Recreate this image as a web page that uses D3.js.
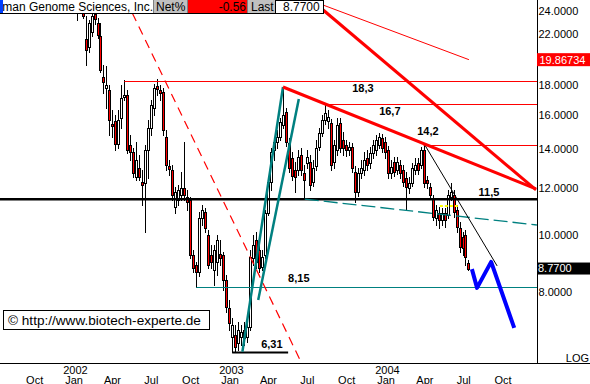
<!DOCTYPE html>
<html><head><meta charset="utf-8">
<script src="https://cdn.jsdelivr.net/npm/d3@7"></script>
<style>
body{margin:0;background:#fff}
svg{display:block}
text{font-family:"Liberation Sans",Arial,sans-serif}
</style>
</head><body>
<svg id="c" width="590" height="384"></svg>
<script>
// ---------------- DATA ----------------
const firstWeek = "2002-01-07";   // weekly candles, one per week from here
const opens = [24.70,24.32,25.09,21.54,20.88,22.14,23.75,22.93,21.79,18.56,
17.78,17.64,15.44,15.62,14.28,15.81,17.16,17.30,14.22,13.84,
12.55,13.00,12.31,12.26,13.95,15.20,16.44,17.92,17.64,17.50,
14.68,13.10,12.90,11.16,11.47,11.69,12.02,11.60,11.47,9.25,
8.89,8.65,10.69,10.94,10.00,9.25,8.72,9.00,9.28,9.25,
8.38,7.51,6.71,6.76,6.55,6.71,6.89,6.71,6.98,9.14,
9.81,9.43,8.82,9.25,10.90,12.31,13.95,14.39,14.68,15.38,
16.19,14.34,13.52,12.90,12.90,13.68,12.75,13.26,13.31,12.31,
13.10,14.11,14.91,15.69,15.62,15.50,13.31,13.95,15.50,14.50,
14.22,13.95,14.11,12.80,11.83,12.75,12.90,13.52,13.26,13.79,
13.95,14.22,14.62,14.39,13.95,12.75,13.31,12.90,13.15,12.90,
12.50,12.02,12.26,12.90,13.26,13.15,13.95,12.40,12.07,11.56,
10.69,10.90,10.61,10.90,10.81,11.60,11.69,11.03,10.28,9.92,
10.00,8.96];
const highs = [25.59,25.89,25.69,23.57,23.20,24.13,24.60,23.38,22.93,19.45,
19.38,17.99,16.31,15.99,16.31,17.99,18.34,17.64,14.79,14.06,
14.39,13.68,12.90,14.22,15.69,16.96,18.06,18.42,17.99,17.78,
15.08,13.41,13.15,12.07,12.16,12.80,14.39,11.93,11.60,9.43,
9.00,10.94,11.24,11.11,10.20,9.62,9.62,10.00,9.81,9.36,
8.55,7.75,7.23,7.03,7.11,7.03,7.11,7.23,9.43,10.00,
10.12,9.62,9.43,11.03,12.50,14.06,14.62,15.08,15.81,17.85,
16.44,14.62,13.84,13.31,13.95,14.06,13.15,13.95,13.68,13.41,
14.50,15.20,15.99,16.77,16.31,15.75,14.50,15.81,15.81,14.97,
14.50,14.39,14.34,13.10,13.00,13.41,13.84,13.95,14.11,14.50,
14.79,14.91,14.85,14.68,14.17,13.41,13.57,13.57,13.41,13.15,
12.80,12.55,13.26,13.52,13.52,14.11,14.25,12.60,12.26,11.69,
11.24,11.16,11.11,11.11,11.93,12.26,11.93,11.24,10.52,10.12,
10.20,9.07];
const lows = [23.20,23.94,23.38,19.45,20.47,21.79,22.84,21.62,18.93,17.44,
16.44,14.79,14.68,13.95,14.06,15.20,16.96,13.79,13.41,12.55,
12.40,12.40,11.24,10.12,12.50,14.79,15.99,17.30,16.96,14.79,
12.90,12.65,11.47,10.90,11.24,11.47,11.47,11.03,9.14,8.65,
8.16,8.52,10.40,10.12,8.79,8.79,8.22,8.55,8.89,8.06,
7.40,6.89,6.33,6.33,6.38,6.50,6.50,6.58,6.89,8.89,
8.79,8.65,8.72,9.14,10.81,11.93,13.41,14.06,14.50,15.20,
14.17,12.80,12.40,11.83,12.65,12.65,11.51,13.00,11.93,12.11,
12.90,13.95,14.73,15.44,15.20,12.90,13.00,13.68,13.84,13.68,
13.62,13.68,12.80,11.38,11.65,12.50,12.65,12.90,13.00,13.52,
13.68,14.06,13.84,13.52,12.50,12.50,12.60,12.70,12.50,12.11,
11.03,11.79,12.11,12.70,12.70,13.00,12.07,12.02,11.56,10.61,
10.40,10.28,10.40,10.32,10.69,11.47,10.73,10.12,9.36,9.25,
8.89,8.72];
const closes = [24.13,25.29,23.57,20.63,22.93,23.57,23.29,21.88,19.08,18.20,
17.99,15.69,15.32,14.28,15.69,17.10,17.30,13.95,13.84,12.75,
13.41,12.55,12.16,13.95,15.20,16.63,17.78,17.71,17.44,15.08,
13.15,12.95,11.69,11.83,11.93,12.02,11.69,11.38,9.25,8.79,
8.65,10.69,11.03,10.28,8.89,9.00,9.43,9.81,9.14,8.38,
7.54,7.09,7.03,6.45,6.89,6.84,6.68,6.98,9.18,9.62,
9.00,8.79,9.18,10.90,12.31,13.84,14.39,14.68,15.56,15.99,
14.39,13.00,12.60,12.55,13.57,12.90,12.40,13.57,12.16,13.00,
14.06,14.91,15.69,16.12,15.87,13.15,14.22,15.38,14.06,14.06,
13.95,14.11,13.00,11.83,12.75,13.00,13.41,13.15,13.79,14.22,
14.50,14.68,14.06,13.84,12.75,13.05,12.80,13.31,12.75,12.31,
12.07,12.26,13.00,13.15,12.90,13.95,12.26,12.26,11.69,10.73,
11.03,10.61,10.90,10.61,11.69,11.83,10.94,10.32,9.54,9.50,
9.18,8.77];

// horizontal support / resistance levels
const levelValues = [18.3, 16.7, 14.2, 11.5, 8.15, 6.31];
const levelLabels = ["18,3", "16,7", "14,2", "11,5", "8,15", "6,31"];
const levelFrom   = ["2002-04-29", "2003-08-11", "2004-03-29", "2001-07-01", "2002-10-14", "2003-01-06"];
const levelTo     = [null, null, null, null, null, "2003-05-17"];
const levelLabelAt = ["2003-11-08", "2004-01-10", "2004-04-08", "2004-08-29", "2003-06-11", "2003-04-09"];

// trend lines  [date, price]
const trendRedA   = [["2003-08-07", 24.13], ["2004-12-17", 11.93]];
const trendRedB   = [["2003-05-05", 17.85], ["2004-12-17", 11.98]];
const trendRedThin = [["2003-08-07", 24.60], ["2004-07-13", 19.86734]];
const trendRedDash = [["2002-05-02", 25.15], ["2003-06-14", 6.13]];
const trendTealA  = [["2003-01-30", 6.33], ["2003-05-05", 17.85]];
const trendTealB  = [["2003-03-08", 7.75], ["2003-06-11", 17.03]];
const trendTealDash = [["2003-06-25", 11.51], ["2004-12-19", 10.40]];
const trendBlack  = [["2004-04-01", 14.22], ["2004-09-17", 8.86]];
const forecast    = [["2004-07-20", 8.75], ["2004-08-01", 8.13], ["2004-09-03", 9.00], ["2004-10-27", 6.95]];
const yellowMark  = [["2004-05-06", 11.20], ["2004-06-20", 11.20]];

const yTicks = [24, 22, 18, 16, 14, 12, 10, 8];
const monthTicks = ["2001-10-01","2002-01-01","2002-04-01","2002-07-01","2002-10-01","2003-01-01",
  "2003-04-01","2003-07-01","2003-10-01","2004-01-01","2004-04-01","2004-07-01","2004-10-01"];
const refValue = 19.86734;
const lastValue = 8.77;
const title = "Human Genome Sciences, Inc.";
const netPct = "-0.56";
const copyright = "\u00A9 http://www.biotech-experte.de";

// ---------------- DRAW ----------------
const parse = d3.utcParse("%Y-%m-%d");
const W = 590, H = 384, plotR = 537, plotB = 363;
const x = d3.scaleUtc().domain([parse("2002-01-01"), parse("2004-01-01")]).range([74, 386]);
const y = d3.scaleLog().domain([8, 24]).range([292, 11.4]);

const svg = d3.select("#c");
svg.append("rect").attr("width", W).attr("height", H).attr("fill", "#fff");
const defs = svg.append("defs");
defs.append("clipPath").attr("id", "plot").append("rect")
  .attr("x", 0).attr("y", 0).attr("width", plotR).attr("height", plotB);
defs.append("clipPath").attr("id", "ttl").append("rect")
  .attr("x", 3).attr("y", 0).attr("width", 151).attr("height", 14);

const g = svg.append("g").attr("clip-path", "url(#plot)");
const line = d3.line().x(d => x(parse(d[0]))).y(d => y(d[1]));

// candles
const start = parse(firstWeek);
const candles = closes.map((c, i) => ({
  d: d3.utcDay.offset(start, 7 * i), o: opens[i], h: highs[i], l: lows[i], c: c
}));
const cg = g.append("g").attr("shape-rendering", "crispEdges");
candles.forEach(k => {
  const cx = Math.round(x(k.d));
  cg.append("line").attr("x1", cx + 0.5).attr("x2", cx + 0.5)
    .attr("y1", Math.round(y(k.h))).attr("y2", Math.round(y(k.l)) + 1)
    .attr("stroke", "#000").attr("stroke-width", 1);
  const top = Math.round(y(Math.max(k.o, k.c)));
  const bot = Math.round(y(Math.min(k.o, k.c)));
  cg.append("rect").attr("x", cx - 0.5).attr("y", top + 0.5)
    .attr("width", 2).attr("height", Math.max(1, bot - top))
    .attr("fill", k.c >= k.o ? "#fff" : "#ff0000")
    .attr("stroke", "#000").attr("stroke-width", 1);
});

// horizontal levels
const levelColors = ["#ff0000", "#ff0000", "#ff0000", "#000", "#008080", "#000"];
const levelWidths = [1, 1, 1, 2.5, 1, 2];
const labelDy = [7, 7, -14, -7, -9, -9];
levelValues.forEach((v, i) => {
  const yy = y(v);
  const yc = levelWidths[i] === 1 ? Math.round(yy) + 0.5 : yy;
  g.append("line")
    .attr("x1", x(parse(levelFrom[i])))
    .attr("x2", levelTo[i] ? x(parse(levelTo[i])) : plotR)
    .attr("y1", yc).attr("y2", yc)
    .attr("stroke", levelColors[i]).attr("stroke-width", levelWidths[i]);
});

// trend lines
function path(data, color, width, dash) {
  const p = g.append("path").attr("d", line(data)).attr("fill", "none")
    .attr("stroke", color).attr("stroke-width", width).attr("stroke-linejoin", "round");
  if (dash) p.attr("stroke-dasharray", dash);
  return p;
}
path(trendRedDash, "#ff0000", 1.2, "9,6");
path(trendTealDash, "#008080", 1.3, "14,5");
path(trendRedThin, "#ff0000", 1);
path(trendBlack, "#000", 1);
path(trendTealA, "#008080", 2.5);
path(trendTealB, "#008080", 2.5);
path(trendRedB, "#ff0000", 3);
path(trendRedA, "#ff0000", 3);
path(yellowMark, "#ffff00", 2, "3,2");
path(forecast, "#0000ff", 4);

// level labels
levelValues.forEach((v, i) => {
  svg.append("text").attr("x", x(parse(levelLabelAt[i]))).attr("y", y(v) + labelDy[i])
    .attr("text-anchor", "middle").attr("dy", "0.36em")
    .attr("font-size", 11).attr("font-weight", "bold").attr("fill", "#000")
    .text(levelLabels[i]);
});

// axes lines
svg.append("line").attr("x1", 0).attr("x2", W).attr("y1", plotB + 0.5).attr("y2", plotB + 0.5)
  .attr("stroke", "#000").attr("shape-rendering", "crispEdges");
svg.append("line").attr("x1", plotR + 0.5).attr("x2", plotR + 0.5).attr("y1", 0).attr("y2", plotB)
  .attr("stroke", "#000").attr("shape-rendering", "crispEdges");

// y labels
const fmt = d3.format(".4f");
yTicks.forEach(v => {
  svg.append("text").attr("x", 538.5).attr("y", y(v)).attr("dy", "0.36em")
    .attr("font-size", 11).attr("fill", "#000").text(fmt(v));
});
// reference value box
svg.append("rect").attr("x", plotR).attr("y", y(refValue) - 6.5).attr("width", W - plotR).attr("height", 13)
  .attr("fill", "#ff0000");
svg.append("text").attr("x", 539.5).attr("y", y(refValue)).attr("dy", "0.36em")
  .attr("font-size", 11).attr("fill", "#fff").text(refValue.toFixed(5));
// last value box
svg.append("rect").attr("x", plotR).attr("y", y(lastValue) - 6).attr("width", W - plotR).attr("height", 12)
  .attr("fill", "#000");
svg.append("text").attr("x", 538).attr("y", y(lastValue)).attr("dy", "0.36em")
  .attr("font-size", 11).attr("fill", "#fff").text(lastValue.toFixed(4));
svg.append("text").attr("x", 589).attr("y", 361.5).attr("text-anchor", "end")
  .attr("font-size", 11).attr("fill", "#000").text("LOG");

// x labels
const fMon = d3.utcFormat("%b"), fYear = d3.utcFormat("%Y");
monthTicks.forEach(s => {
  const d = parse(s), xx = x(d);
  svg.append("text").attr("x", xx).attr("y", 383.5).attr("text-anchor", "middle")
    .attr("font-size", 11).attr("fill", "#000").text(fMon(d));
  if (d.getUTCMonth() === 0)
    svg.append("text").attr("x", xx + 1.5).attr("y", 373.5).attr("text-anchor", "middle")
      .attr("font-size", 11).attr("fill", "#000").text(fYear(d));
});

// header bar
const hd = svg.append("g").attr("shape-rendering", "crispEdges");
hd.append("rect").attr("x", 0).attr("y", 0).attr("width", 324).attr("height", 13).attr("fill", "#fff");
hd.append("rect").attr("x", 154).attr("y", 0).attr("width", 34).attr("height", 13).attr("fill", "#c0c0c0");
hd.append("rect").attr("x", 188).attr("y", 0).attr("width", 60).attr("height", 13).attr("fill", "#ff0000");
hd.append("rect").attr("x", 248).attr("y", 0).attr("width", 27).attr("height", 13).attr("fill", "#c0c0c0");
hd.append("rect").attr("x", 275.5).attr("y", 0.5).attr("width", 48).attr("height", 13).attr("fill", "#fff")
  .attr("stroke", "#000");
hd.append("line").attr("x1", 0).attr("x2", 324).attr("y1", 13.5).attr("y2", 13.5).attr("stroke", "#000");
[153.5, 187.5, 247.5].forEach(v => hd.append("line").attr("x1", v).attr("x2", v).attr("y1", 0).attr("y2", 13)
  .attr("stroke", "#808080"));
hd.append("rect").attr("x", 0).attr("y", 0).attr("width", 3).attr("height", 13).attr("fill", "#0040ff");
svg.append("text").attr("x", 153).attr("y", 11).attr("text-anchor", "end").attr("clip-path", "url(#ttl)")
  .attr("font-size", 12).attr("fill", "#000").text(title);
svg.append("text").attr("x", 156).attr("y", 11).attr("font-size", 12).attr("fill", "#000").text("Net%");
svg.append("text").attr("x", 246).attr("y", 11).attr("text-anchor", "end").attr("font-size", 12).attr("fill", "#000").text(netPct);
svg.append("text").attr("x", 251).attr("y", 11).attr("font-size", 12).attr("fill", "#000").text("Last");
svg.append("text").attr("x", 283).attr("y", 11).attr("font-size", 12).attr("fill", "#000").text(lastValue.toFixed(4));

// copyright box
svg.append("rect").attr("x", 3.5).attr("y", 310.5).attr("width", 206).attr("height", 19)
  .attr("fill", "#fff").attr("stroke", "#000").attr("shape-rendering", "crispEdges");
svg.append("text").attr("x", 8).attr("y", 325).attr("font-size", 13.6).attr("fill", "#000").text(copyright);
</script>
</body></html>
